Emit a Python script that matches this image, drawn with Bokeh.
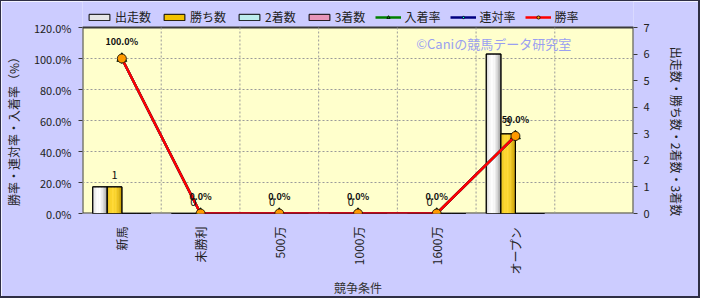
import math
from bokeh.plotting import figure
from bokeh.models import (Range1d, LinearAxis, FixedTicker, Legend, LegendItem,
                          ColumnDataSource, Label)
from bokeh.core.properties import value
from bokeh.embed import file_html
from bokeh.resources import INLINE

# ---------------- data ----------------
categories = ["新馬", "未勝利", "500万", "1000万", "1600万", "オープン"]
n_slots = 7  # one empty slot at the right end of the category axis

starts = [1, 0, 0, 0, 0, 6]        # 出走数
wins = [1, 0, 0, 0, 0, 3]          # 勝ち数
seconds = [0, 0, 0, 0, 0, 0]       # 2着数
thirds = [0, 0, 0, 0, 0, 0]        # 3着数

place_rate = [100.0, 0.0, 0.0, 0.0, 0.0, 50.0]      # 入着率
quinella_rate = [100.0, 0.0, 0.0, 0.0, 0.0, 50.0]   # 連対率
win_rate = [100.0, 0.0, 0.0, 0.0, 0.0, 50.0]        # 勝率

left_ticks = [0, 20, 40, 60, 80, 100, 120]
right_ticks = [0, 1, 2, 3, 4, 5, 6, 7]

FONT = "Noto Sans CJK JP"

# plot-area height inside a taller frame (frame also hosts the legend strip on top)
FRAME_H = 212
AREA_H = 186
pct_top = left_ticks[-1]
cnt_top = right_ticks[-1]
PAD = "\u3000" * 4  # nudges the rotated axis titles down toward the plot-area centre

# ---------------- figure ----------------
p = figure(width=700, height=298, x_range=Range1d(0, n_slots),
           y_range=Range1d(0, pct_top * FRAME_H / AREA_H),
           output_backend="svg", toolbar_location=None,
           min_border_left=77, min_border_right=68, min_border_top=0, min_border_bottom=86)
p.extra_y_ranges = {"cnt": Range1d(0, cnt_top * FRAME_H / AREA_H)}
p.styles = {"border-style": "solid", "border-color": "#2E2E44", "border-width": "1px 2px 2px 1px"}

p.background_fill_color = "#CCCCFF"
p.border_fill_color = "#CCCCFF"
p.outline_line_color = None
p.xgrid.visible = False
p.ygrid.visible = False

centers = [i + 0.5 for i in range(len(categories))]

# plot area (yellow) + dotted grid
p.quad(left=0, right=n_slots, bottom=0, top=pct_top, fill_color="#FFFFCC",
       line_color="#3A3A3A", line_width=2)
inner = left_ticks[1:-1]
p.segment(x0=[0] * len(inner), x1=[n_slots] * len(inner), y0=inner, y1=inner,
          line_color="#9A9A9A", line_dash="2 2", line_width=1)
bounds = list(range(1, n_slots))
p.segment(x0=bounds, x1=bounds, y0=[0] * len(bounds), y1=[pct_top] * len(bounds),
          line_color="#9A9A9A", line_dash="2 2", line_width=1)

# x axis
xa = p.xaxis[0]
xa.ticker = FixedTicker(ticks=centers)
xa.major_label_overrides = {c: lab for c, lab in zip(centers, categories)}
xa.major_label_orientation = math.pi / 2
xa.major_label_standoff = 7
xa.major_label_text_font = FONT
xa.major_label_text_font_size = "12px"
xa.major_label_text_color = "#222222"
xa.major_tick_line_color = None
xa.minor_tick_line_color = None
xa.axis_line_color = None
xa.axis_label = "競争条件"
xa.axis_label_text_font = FONT
xa.axis_label_text_font_size = "12px"
xa.axis_label_text_font_style = "normal"
xa.axis_label_text_color = "#333333"
xa.axis_label_standoff = 1

# left axis
ya = p.yaxis[0]
ya.ticker = FixedTicker(ticks=left_ticks)
ya.major_label_overrides = {t: f"{t:.1f}%" for t in left_ticks}
ya.major_label_text_font = FONT
ya.major_label_text_font_size = "11px"
ya.major_label_text_color = "#222222"
ya.major_label_standoff = 7
ya.major_tick_out = 4
ya.major_tick_in = 0
ya.major_tick_line_color = "#3A3A3A"
ya.minor_tick_line_color = None
ya.axis_line_color = None
ya.axis_label = "勝率・連対率・入着率（%）" + PAD
ya.axis_label_text_font = FONT
ya.axis_label_text_font_size = "12px"
ya.axis_label_text_font_style = "normal"
ya.axis_label_text_color = "#222222"
ya.axis_label_standoff = 9

# right axis (its title reads top-to-bottom in Bokeh, so pad at the start)
ra = LinearAxis(y_range_name="cnt", ticker=FixedTicker(ticks=right_ticks))
ra.major_label_text_font = FONT
ra.major_label_text_font_size = "11px"
ra.major_label_text_color = "#222222"
ra.major_label_standoff = 6
ra.major_tick_out = 4
ra.major_tick_in = 0
ra.major_tick_line_color = "#3A3A3A"
ra.minor_tick_line_color = None
ra.axis_line_color = None
ra.axis_label = PAD + "出走数・勝ち数・2着数・3着数"
ra.axis_label_text_font = FONT
ra.axis_label_text_font_size = "12px"
ra.axis_label_text_font_style = "normal"
ra.axis_label_text_color = "#222222"
ra.axis_label_standoff = 15
p.add_layout(ra, "right")


# ---------------- bars (cylinder-like shading) ----------------
def hex2rgb(h):
    h = h.lstrip("#")
    return tuple(int(h[i:i + 2], 16) for i in (0, 2, 4))


def mix(a, b, f):
    ra_, ga_, ba_ = hex2rgb(a)
    rb_, gb_, bb_ = hex2rgb(b)
    return "#%02x%02x%02x" % (round(ra_ + (rb_ - ra_) * f), round(ga_ + (gb_ - ga_) * f),
                              round(ba_ + (bb_ - ba_) * f))


bar_w = 0.185
series = [
    ("出走数", starts, "#E6E6E6", "#8A8A8A", "#FFFFFF"),
    ("勝ち数", wins, "#F2C200", "#B89000", "#FFDB3A"),
    ("2着数", seconds, "#BDEDED", "#7FB5B5", "#E8FFFF"),
    ("3着数", thirds, "#E895B8", "#B0507A", "#FFC8E0"),
]
n_strips = 10
bar_renderers = []
for k, (name, vals, base, edge, hi) in enumerate(series):
    off = (k - 1.5) * bar_w
    xs = [c + off for c in centers]
    src = ColumnDataSource(dict(x=xs, top=vals))
    r = p.vbar(x="x", top="top", bottom=0, width=bar_w, source=src, y_range_name="cnt",
               fill_color=base, line_color="black", line_width=1)
    bar_renderers.append((name, r))
    for s in range(n_strips):
        t = (s + 0.5) / n_strips
        f = max(0.0, 1 - ((t - 0.4) / 0.6) ** 2)
        col = mix(edge, hi, f)
        sx = [x + (t - 0.5) * bar_w for x in xs]
        p.vbar(x=sx, top=vals, bottom=0, width=bar_w / n_strips * 1.05, y_range_name="cnt",
               fill_color=col, line_color=None)
    p.vbar(x="x", top="top", bottom=0, width=bar_w, source=src, y_range_name="cnt",
           fill_alpha=0, line_color="black", line_width=1.2)

# ---------------- rate lines ----------------
line_series = [
    ("入着率", place_rate, "#008000", "triangle", "#00B000", 10),
    ("連対率", quinella_rate, "#000080", "diamond", "#00FFFF", 10),
    ("勝率", win_rate, "#FF0000", "circle", "#FF9900", 9),
]
line_items = []
for name, vals, lc, mk, mfill, ms in line_series:
    rl = p.line(centers, vals, line_color=lc, line_width=2.5)
    rm = p.scatter(centers, vals, marker=mk, size=ms, fill_color=mfill,
                   line_color="black", line_width=0.8)
    line_items.append((name, [rl, rm]))

# ---------------- data labels ----------------
win_x = [c + (1 - 1.5) * bar_w for c in centers]
p.text(x=win_x, y=wins, text=[str(v) for v in wins], y_range_name="cnt",
       text_font=value(FONT), text_font_size="11px", text_color="#111111",
       text_align="center", text_baseline="middle", y_offset=-12)
p.text(x=centers, y=win_rate, text=[f"{v:.1f}%" for v in win_rate],
       text_font=value(FONT), text_font_size="9px", text_font_style="bold",
       text_color="#111111", text_align="center", text_baseline="middle", y_offset=-17)

# ---------------- watermark ----------------
p.add_layout(Label(x=4.24, y=109.7, text="©Caniの競馬データ研究室",
                   text_font=FONT, text_font_size="13px", text_color="#9A9FF0",
                   text_align="left", text_baseline="middle"))

# ---------------- legend ----------------
items = [LegendItem(label=n, renderers=[r]) for n, r in bar_renderers]
items += [LegendItem(label=n, renderers=rs) for n, rs in line_items]
legend = Legend(items=items, orientation="horizontal", location=(2, AREA_H),
                glyph_width=26, glyph_height=8, label_standoff=3, spacing=10,
                padding=2, margin=0, label_height=14,
                label_text_font=FONT, label_text_font_size="12px", label_text_color="#222222",
                border_line_alpha=0, background_fill_alpha=0)
p.add_layout(legend)

open("out.html", "w").write(file_html(p, INLINE))
